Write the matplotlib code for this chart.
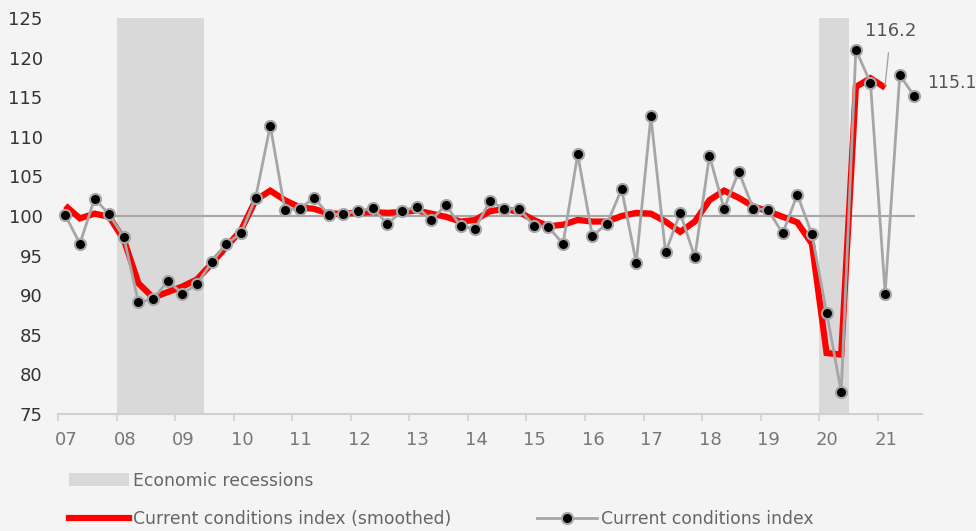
import numpy as np
import matplotlib
matplotlib.use("Agg")
import matplotlib.pyplot as plt
from matplotlib.lines import Line2D
from matplotlib.patches import Patch

# quarterly data, 2007Q1 .. 2021Q3
index_raw = [100.1, 96.5, 102.2, 100.2, 97.3, 89.1, 89.5, 91.8, 90.2, 91.4,
             94.2, 96.5, 97.8, 102.3, 111.4, 100.8, 100.9, 102.3, 100.1, 100.3,
             100.6, 101.0, 99.0, 100.6, 101.2, 99.5, 101.4, 98.7, 98.4, 101.9,
             100.9, 100.9, 98.8, 98.6, 96.5, 107.8, 97.5, 99.0, 103.4, 94.1,
             112.6, 95.4, 100.4, 94.8, 107.6, 100.9, 105.6, 100.9, 100.8, 97.8,
             102.7, 97.7, 87.8, 77.8, 121.0, 116.8, 90.2, 117.8, 115.1]
index_smooth = [101.3, 99.7, 100.3, 99.9, 97.0, 91.5, 89.7, 90.4, 91.1, 92.0,
                94.0, 96.1, 98.2, 102.0, 103.2, 102.0, 101.1, 100.9, 100.3, 100.3,
                100.4, 100.5, 100.4, 100.5, 100.7, 100.3, 99.9, 99.3, 99.5, 100.6,
                100.9, 100.5, 99.5, 98.7, 98.9, 99.5, 99.3, 99.3, 100.0, 100.4,
                100.3, 99.3, 98.0, 99.3, 102.0, 103.2, 102.3, 101.2, 100.6, 99.9,
                99.2, 96.5, 82.7, 82.5, 116.3, 117.4, 116.2]
recessions = [(2008.0, 2009.5), (2020.0, 2020.5)]
years = list(range(2007, 2022))
year_labels = [f"{y % 100:02d}" for y in years]

x_raw = 2007 + (np.arange(len(index_raw)) + 0.5) / 4
x_smooth = x_raw[:len(index_smooth)]

bg = "#f4f4f4"
fig = plt.figure(figsize=(9.76, 5.31), dpi=100, facecolor=bg)
ax = fig.add_axes([0.0594, 0.2203, 0.885, 0.7458], facecolor=bg)

for a, b in recessions:
    ax.axvspan(a, b, color="#d9d9d9", lw=0, zorder=0)

ax.plot([x_raw[0], x_raw[-1]], [100, 100], color="#a6a6a6", lw=1.5, zorder=1)
ax.plot(x_smooth, index_smooth, color="#ff0000", lw=4.5, solid_capstyle="butt",
        solid_joinstyle="miter", zorder=2)
ax.plot(x_raw, index_raw, color="#a6a6a6", lw=2, marker="o", ms=8,
        mfc="black", mec="#a6a6a6", mew=1.5, zorder=3)

ax.annotate("116.2", xy=(x_smooth[-1], index_smooth[-1] + 0.3), xytext=(4, 39),
            textcoords="offset points", ha="center", va="center",
            fontsize=13, color="#555555",
            arrowprops=dict(arrowstyle="-", color="#a6a6a6", lw=1, shrinkA=7, shrinkB=0))
ax.annotate("115.1", xy=(x_raw[-1], index_raw[-1]), xytext=(9.5, 10),
            textcoords="offset points", ha="left", va="center",
            fontsize=12.5, color="#555555", annotation_clip=False)

ax.set_xlim(2007, 2021.75)
ax.set_ylim(75, 125)
ax.set_yticks(range(75, 126, 5))
ax.set_xticks(years)
ax.set_xticklabels([])
ax.set_xticks(np.array(years) + 0.14, minor=True)
ax.set_xticklabels(year_labels, minor=True)

for s in ["top", "right", "left"]:
    ax.spines[s].set_visible(False)
ax.spines["bottom"].set_color("#d0d0d0")
ax.spines["bottom"].set_linewidth(1.5)
ax.tick_params(axis="y", length=0, pad=11, labelsize=13, labelcolor="#333333")
ax.tick_params(axis="x", which="major", length=5, width=1.2, color="#d0d0d0")
ax.tick_params(axis="x", which="minor", length=0, pad=12, labelsize=13, labelcolor="#777777")

handles = [Patch(facecolor="#d9d9d9", edgecolor="none"),
           Line2D([], [], color="#ff0000", lw=4.5),
           Patch(facecolor="none", edgecolor="none"),
           Line2D([], [], color="#a6a6a6", lw=2, marker="o", ms=8,
                  mfc="black", mec="#a6a6a6", mew=1.5)]
labels = ["Economic recessions", "Current conditions index (smoothed)", "",
          "Current conditions index"]
leg = fig.legend(handles, labels, ncol=2, loc="upper left",
                 bbox_to_anchor=(0.071, 0.112), frameon=False,
                 prop={"family": ["Liberation Sans Narrow", "DejaVu Sans"], "size": 12.4},
                 handlelength=3.45, handletextpad=0.25, labelspacing=1.2,
                 columnspacing=5.0, borderaxespad=0, borderpad=0)
for t in leg.get_texts():
    t.set_color("#666666")

fig.savefig("out.png", dpi=100, facecolor=bg)
